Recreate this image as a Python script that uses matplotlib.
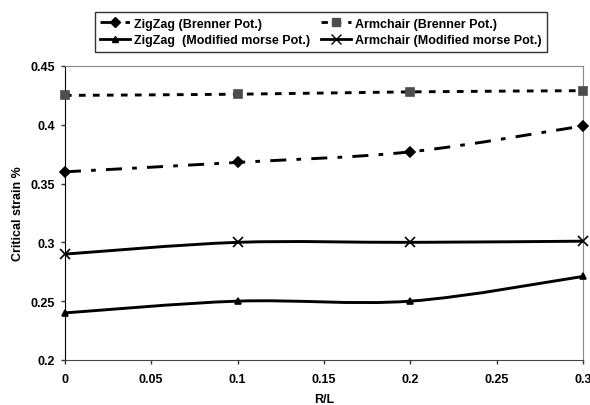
import numpy as np
import matplotlib
matplotlib.use("Agg")
import matplotlib.pyplot as plt
from matplotlib.path import Path
import matplotlib.patches as mpatches
from matplotlib.lines import Line2D

plt.rcParams['font.family'] = ['Liberation Sans', 'DejaVu Sans']
plt.rcParams['font.weight'] = 'bold'

# data
r_l = [0.0, 0.1, 0.2, 0.3]
zigzag_brenner = [0.360, 0.368, 0.377, 0.399]
armchair_brenner = [0.425, 0.426, 0.428, 0.429]
zigzag_morse = [0.240, 0.250, 0.250, 0.271]
armchair_morse = [0.290, 0.300, 0.300, 0.301]

labels = ['ZigZag (Brenner Pot.)', 'Armchair (Brenner Pot.)',
          'ZigZag  (Modified morse Pot.)', 'Armchair (Modified morse Pot.)']


def smooth_path(x, y):
    # Excel-like smoothed line: catmull-rom segments as cubic bezier
    x = np.asarray(x, float)
    y = np.asarray(y, float)
    verts = [(x[0], y[0])]
    codes = [Path.MOVETO]
    n = len(x)
    for i in range(n - 1):
        p0 = (x[max(i - 1, 0)], y[max(i - 1, 0)])
        p1 = (x[i], y[i])
        p2 = (x[i + 1], y[i + 1])
        p3 = (x[min(i + 2, n - 1)], y[min(i + 2, n - 1)])
        c1 = (p1[0] + (p2[0] - p0[0]) / 6, p1[1] + (p2[1] - p0[1]) / 6)
        c2 = (p2[0] - (p3[0] - p1[0]) / 6, p2[1] - (p3[1] - p1[1]) / 6)
        verts += [c1, c2, p2]
        codes += [Path.CURVE4] * 3
    return Path(verts, codes)


fig = plt.figure(figsize=(5.9, 4.06), dpi=100)
ax = fig.add_axes([0.110, 0.111, 0.878, 0.724])

series = [
    (zigzag_brenner, 'D', 'black', (0, (5.5, 3.5, 1.6, 3.5)), 5),
    (armchair_brenner, 's', '#4d4d4d', (0, (2.3, 2.5)), 6),
    (zigzag_morse, '^', 'black', '-', 4),
    (armchair_morse, 'x', 'black', '-', 7),
]

handles = []
for (vals, mk, mc, ls, ms), lab in zip(series, labels):
    patch = mpatches.PathPatch(smooth_path(r_l, vals), facecolor='none',
                               edgecolor='black', lw=2.1, linestyle=ls,
                               transform=ax.transData, clip_on=False)
    ax.add_patch(patch)
    ax.plot(r_l, vals, linestyle='none', marker=mk, color=mc, ms=ms,
            mew=1.2, clip_on=False, zorder=5)
    handles.append(Line2D([], [], color='black', lw=2, linestyle=ls,
                          marker=mk, markerfacecolor=mc, markeredgecolor=mc,
                          ms=ms, label=lab))

ax.set_xlim(0, 0.3)
ax.set_ylim(0.2, 0.45)
ax.set_xticks([0, 0.05, 0.1, 0.15, 0.2, 0.25, 0.3])
ax.set_xticklabels(['0', '0.05', '0.1', '0.15', '0.2', '0.25', '0.3'])
ax.set_yticks([0.2, 0.25, 0.3, 0.35, 0.4, 0.45])
ax.set_yticklabels(['0.2', '0.25', '0.3', '0.35', '0.4', '0.45'])
ax.tick_params(labelsize=9, length=3, width=1, direction='out',
               color='#333333')
ax.tick_params(axis='x', pad=6.5)
ax.tick_params(axis='y', pad=4)
ax.spines['left'].set_color('black')
ax.spines['bottom'].set_color('#444444')
ax.spines['top'].set_color('#888888')
ax.spines['right'].set_color('#888888')
ax.set_xlabel('R/L', fontsize=9, fontweight='bold', labelpad=5.5)
ax.set_ylabel('Critical strain %', fontsize=9, fontweight='bold')
ax.yaxis.set_label_coords(-0.079, 0.5)

# row-wise order in a 2-column legend
order = [0, 2, 1, 3]
leg = fig.legend(handles=[handles[i] for i in order], ncol=2, loc='upper center',
                 bbox_to_anchor=(0.544, 0.968), borderaxespad=0, fontsize=9,
                 frameon=True, fancybox=False, edgecolor='black',
                 handlelength=2.4, columnspacing=0.9, handletextpad=0.3,
                 borderpad=0.45, labelspacing=0.35)
leg.get_frame().set_linewidth(1)

fig.savefig('out.png', dpi=100)
